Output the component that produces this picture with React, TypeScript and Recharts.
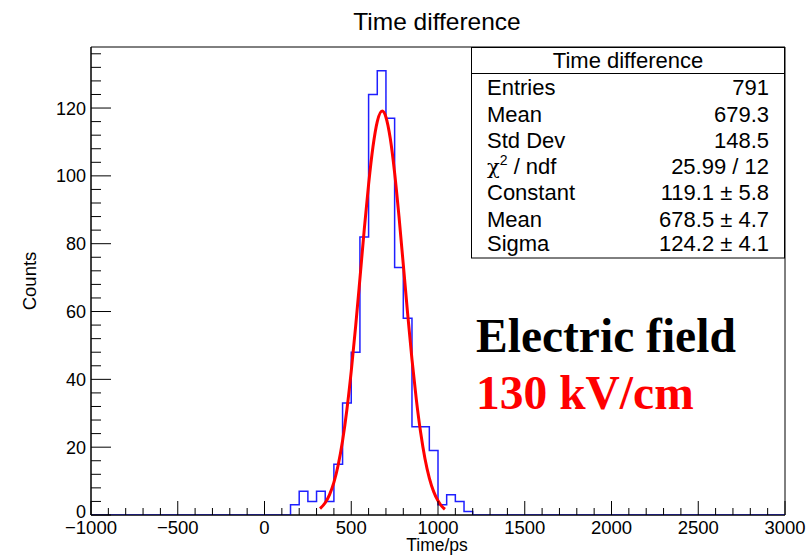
import React from "react";
import {
  ComposedChart,
  Line,
  XAxis,
  YAxis,
  ReferenceArea,
} from "recharts";

// Histogram: lower bin edges (ps) and counts, 50 ps bins
const binLow = [150, 200, 250, 300, 350, 400, 450, 500, 550, 600, 650, 700, 750, 800, 850, 900, 950, 1000, 1050, 1100, 1150];
const counts = [3, 7, 4, 7, 4, 15, 33, 48, 82, 124, 131, 117, 73, 58, 26, 26, 19, 3, 6, 4, 1];
const binWidth = 50;

// Gaussian fit curve
const fitX = [320, 350, 375, 400, 425, 450, 475, 500, 525, 550, 575, 600, 625, 650, 678.5, 700, 725, 750, 775, 800, 825, 850, 875, 900, 925, 950, 975, 1000, 1020, 1040];
const fitY = [1.9, 3.6, 6.0, 9.6, 14.8, 21.9, 31.1, 42.4, 55.5, 69.7, 84.2, 97.5, 108.5, 116.0, 119.1, 117.3, 111.0, 100.9, 88.1, 73.8, 59.4, 45.9, 34.1, 24.3, 16.6, 10.9, 6.9, 4.2, 2.7, 1.7];

// axis ranges and ticks
const xMin = -1000;
const xMax = 3000;
const yMax = 138;
const xMajor = [-1000, -500, 0, 500, 1000, 1500, 2000, 2500, 3000];
const yMajor = [0, 20, 40, 60, 80, 100, 120];

// stats box rows
const statLabels = ["Entries", "Mean", "Std Dev", "chi", "Constant", "Mean", "Sigma"];
const statValues = ["791", "679.3", "148.5", "25.99 / 12", "119.1 \u00b1 5.8", "678.5 \u00b1 4.7", "124.2 \u00b1 4.1"];

const FONT = "'Liberation Sans', Arial, Helvetica, sans-serif";

const histData = [
  { x: xMin, y: 0 },
  ...binLow.map((b, i) => ({ x: b, y: counts[i] })),
  { x: binLow[binLow.length - 1] + binWidth, y: 0 },
  { x: xMax, y: 0 },
];
const fitData = fitX.map((x, i) => ({ x, y: fitY[i] }));

const xTicks: number[] = [];
for (let v = xMin; v <= xMax; v += 100) xTicks.push(v);
const yTicks: number[] = [];
for (let v = 0; v <= 136; v += 4) yTicks.push(v);

const fmt = (v: number) => (v < 0 ? "\u2212" + Math.abs(v) : String(v));

const XTick = (props: any) => {
  const { x, y, payload } = props;
  const major = xMajor.includes(payload.value);
  return (
    <g>
      <line x1={x} x2={x} y1={y} y2={y - (major ? 14 : 7)} stroke="#000" strokeWidth={1} />
      {major && (
        <text x={x} y={y + 19} textAnchor="middle" fontSize={18.5} fontFamily={FONT} fill="#000">
          {fmt(payload.value)}
        </text>
      )}
    </g>
  );
};

const YTick = (props: any) => {
  const { x, y, payload } = props;
  const major = yMajor.includes(payload.value);
  return (
    <g>
      <line x1={x} x2={x + (major ? 20 : 10)} y1={y} y2={y} stroke="#000" strokeWidth={1} />
      {major && (
        <text x={x - 5} y={y + (payload.value === 0 ? 3 : 6.5)} textAnchor="end" fontSize={18} fontFamily={FONT} fill="#000">
          {payload.value}
        </text>
      )}
    </g>
  );
};

export default function App() {
  const rowY = [95, 121.5, 148, 174, 200, 226.5, 251];
  return (
    <div style={{ position: "absolute", left: 0, top: 0, width: 807, height: 556, background: "#fff" }}>
      <ComposedChart
        width={807}
        height={556}
        margin={{ top: 47, right: 22, left: 0, bottom: 0 }}
      >
        <XAxis
          dataKey="x"
          type="number"
          domain={[xMin, xMax]}
          allowDataOverflow
          ticks={xTicks}
          interval={0}
          tickSize={0}
          tickMargin={0}
          tick={<XTick />}
          height={41}
          axisLine={{ stroke: "#000" }}
        />
        <YAxis
          type="number"
          domain={[0, yMax]}
          allowDataOverflow
          ticks={yTicks}
          interval={0}
          tickSize={0}
          tickMargin={0}
          tick={<YTick />}
          width={91}
          axisLine={{ stroke: "#000" }}
        />
        <ReferenceArea x1={xMin} x2={xMax} y1={0} y2={yMax} fill="none" stroke="#000" strokeWidth={1} />
        <Line
          data={histData}
          dataKey="y"
          type="stepAfter"
          stroke="#1f1fff"
          strokeWidth={1.5}
          dot={false}
          isAnimationActive={false}
        />
        <Line
          data={fitData}
          dataKey="y"
          type="monotone"
          stroke="#ff0000"
          strokeWidth={3}
          dot={false}
          isAnimationActive={false}
        />
      </ComposedChart>
      <svg
        width={807}
        height={556}
        style={{ position: "absolute", left: 0, top: 0, pointerEvents: "none" }}
        fontFamily={FONT}
      >
        <text x={437} y={551} textAnchor="middle" fontSize={17.5} fill="#000">
          Time/ps
        </text>
        <text x={437} y={30} textAnchor="middle" fontSize={24.5} fill="#000">
          Time difference
        </text>
        <text
          x={0}
          y={0}
          transform="translate(36 281) rotate(-90)"
          textAnchor="middle"
          fontSize={18.5}
          fill="#000"
        >
          Counts
        </text>

        {/* stats box */}
        <rect x={471.5} y={47.5} width={313} height={210.5} fill="#fff" stroke="#000" strokeWidth={1} />
        <line x1={471.5} x2={784.5} y1={73.5} y2={73.5} stroke="#000" strokeWidth={1} />
        <text x={628} y={68} textAnchor="middle" fontSize={22} fill="#000">
          Time difference
        </text>
        {statLabels.map((l, i) => (
          <g key={i}>
            <text x={487} y={rowY[i]} fontSize={22} fill="#000">
              {l === "chi" ? (
                <>
                  <tspan fontFamily="'DejaVu Serif', 'Liberation Serif', serif" fontSize={21}>
                    {"\u03c7"}
                  </tspan>
                  <tspan fontSize={14} dy={-9}>2</tspan>
                  <tspan dy={9}>{" / ndf"}</tspan>
                </>
              ) : (
                l
              )}
            </text>
            <text x={769} y={rowY[i]} textAnchor="end" fontSize={22} fill="#000">
              {statValues[i]}
            </text>
          </g>
        ))}

        <text
          x={476}
          y={352}
          fontSize={47.5}
          fontWeight="bold"
          fontFamily="'Liberation Serif', 'Times New Roman', serif"
          fill="#000"
        >
          Electric field
        </text>
        <text
          x={476}
          y={409}
          fontSize={47.5}
          fontWeight="bold"
          fontFamily="'Liberation Serif', 'Times New Roman', serif"
          fill="#ff0000"
        >
          130 kV/cm
        </text>
      </svg>
    </div>
  );
}
